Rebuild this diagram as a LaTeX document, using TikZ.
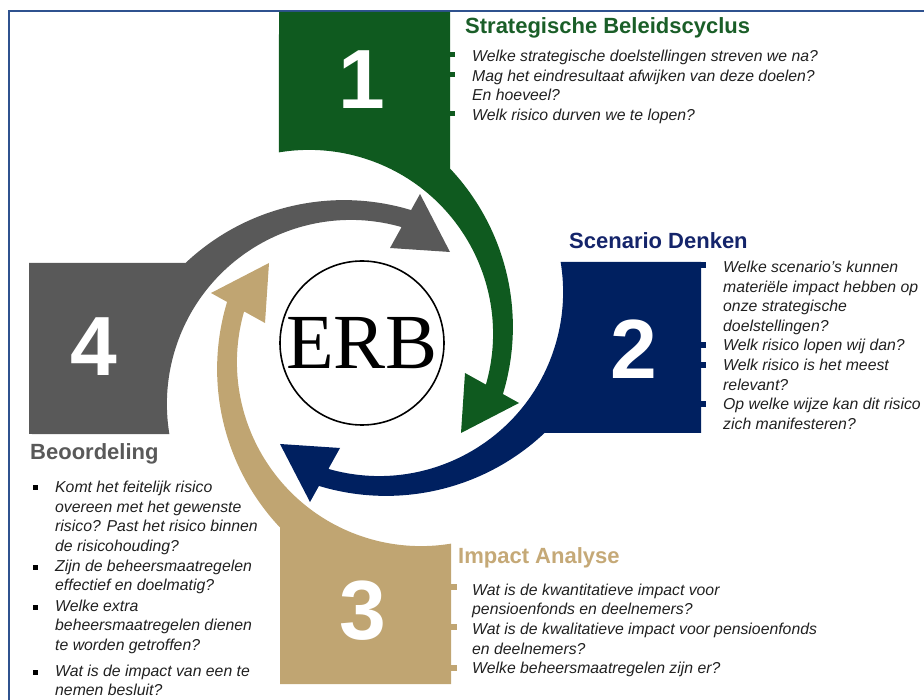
\documentclass[tikz,border=0pt]{standalone}
\usepackage{fontspec}
\setmainfont{Liberation Sans}
\newfontfamily\erbfont{Liberation Serif}
\definecolor{erbgreen}{HTML}{0F5A1F}
\definecolor{erbnavy}{HTML}{002060}
\definecolor{erbtan}{HTML}{C0A572}
\definecolor{erbgray}{HTML}{595959}
\definecolor{titlegreen}{HTML}{1A5E28}
\definecolor{titlenavy}{HTML}{14246A}
\definecolor{titletan}{HTML}{C5A977}
\definecolor{framebl}{HTML}{2F528F}
\definecolor{bodytxt}{HTML}{202020}
\tikzset{
  digit/.style={text=white,inner sep=0pt,font=\fontsize{84}{84}\selectfont\bfseries},
  heading/.style={anchor=base west,inner sep=0pt,font=\fontsize{22}{22}\selectfont\bfseries},
  qline/.style={anchor=base west,inner sep=0pt,text=bodytxt,font=\fontsize{15.8}{19.6}\selectfont\itshape},
}
% one arm (block plus curved arrow), drawn for the top block
\newcommand{\armshape}{(279,12) -- (450,12) -- (450,168.5)
  arc[start angle=-43.3,end angle=16.9,radius=231] -- (519,403) -- (461,433) -- (465,373)
  -- (485.9,384.6) arc[start angle=16,end angle=-99.4,radius=184] -- cycle}
\begin{document}
\begin{tikzpicture}[x=1pt,y=-1pt]
  \useasboundingbox (0,0) rectangle (924,700);
  \clip (0,0) rectangle (924,700);
  \draw[framebl,line width=2.4pt] (9,11) rectangle (940,720);
  % four arms, each a quarter turn further round the middle
  \foreach \turn/\col in {0/erbgreen,-90/erbnavy,-180/erbtan,-270/erbgray}
    \fill[\col,rotate around={\turn:(365,348)}] \armshape;
  % numbers
  \node[digit] (n1) at (362,80) {1};
  \node[digit] (n2) at (634,349) {2};
  \node[digit] (n3) at (363,611) {3};
  \node[digit] (n4) at (94,347) {4};
  \node[draw,circle,line width=1.6pt,minimum size=164pt,inner sep=0pt,
    font=\erbfont\fontsize{78}{78}\selectfont] (erb) at (362,343) {ERB};
  % 1
  \node[heading,text=titlegreen] (h1) at (465,34) {Strategische Beleidscyclus};
  \foreach \q [count=\i] in {Welke strategische doelstellingen streven we na?,
    Mag het eindresultaat afwijken van deze doelen?,En hoeveel?,
    Welk risico durven we te lopen?}
    \node[qline] (q1-\i) at (472,{61.5+19.6*(\i-1)}) {\q};
  \foreach \y in {55,74.5,113.5}
    \fill[erbgreen] (450,\y-2.5) rectangle (455,\y+2.5);
  % 2
  \node[heading,text=titlenavy] (h2) at (569,249) {Scenario Denken};
  \foreach \q [count=\i] in {Welke scenario's kunnen,materiële impact hebben op,
    onze strategische,doelstellingen?,Welk risico lopen wij dan?,
    Welk risico is het meest,relevant?,Op welke wijze kan dit risico,
    zich manifesteren?}
    \node[qline] (q2-\i) at (723,{272.5+19.6*(\i-1)}) {\q};
  \foreach \y in {265,345,365,404}
    \fill[erbnavy] (700,\y-3) rectangle (706,\y+3);
  % 3
  \node[heading,text=titletan] (h3) at (458,563) {Impact Analyse};
  \foreach \q [count=\i] in {Wat is de kwantitatieve impact voor,
    pensioenfonds en deelnemers?,Wat is de kwalitatieve impact voor pensioenfonds,
    en deelnemers?,Welke beheersmaatregelen zijn er?}
    \node[qline] (q3-\i) at (472,{595+19.7*(\i-1)}) {\q};
  \foreach \y in {587,627,668}
    \fill[erbtan] (451,\y-3) rectangle (457,\y+3);
  % 4
  \node[heading,text=erbgray] (h4) at (30,460) {Beoordeling};
  \foreach \q/\y [count=\i] in {Komt het feitelijk risico/492.5,
    overeen met het gewenste/512,risico? Past het risico binnen/531.5,
    de risicohouding?/551,Zijn de beheersmaatregelen/571,
    effectief en doelmatig?/590.5,Welke extra/611,
    beheersmaatregelen dienen/630.5,te worden getroffen?/650,
    Wat is de impact van een te/676,nemen besluit?/695}
    \node[qline] (q4-\i) at (55,\y) {\q};
  \foreach \y in {487,567,607,672}
    \fill[black] (33,\y-2.5) rectangle (38,\y+2.5);
\end{tikzpicture}
\end{document}
